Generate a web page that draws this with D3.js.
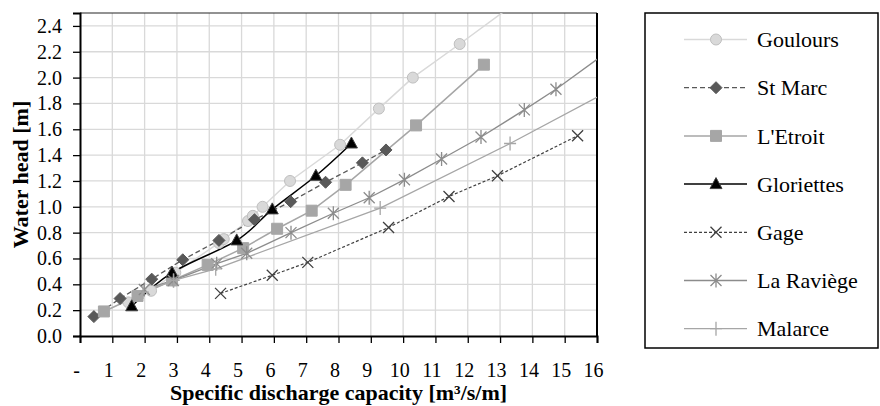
<!DOCTYPE html>
<html>
<head>
<meta charset="utf-8">
<script src="https://cdn.jsdelivr.net/npm/d3@7/dist/d3.min.js"></script>
<style>
  html, body { margin: 0; padding: 0; background: #fff; }
  svg { display: block; }
  text { font-family: "Liberation Serif", "Times New Roman", serif; fill: #000; }
</style>
</head>
<body>
<svg id="chart" width="880" height="406"></svg>
<script>
// ---------- data (x = specific discharge capacity, y = water head) ----------
const xTickValues = [0,1,2,3,4,5,6,7,8,9,10,11,12,13,14,15,16];
const xTickLabels = ["-","1","2","3","4","5","6","7","8","9","10","11","12","13","14","15","16"];
const yTickValues = [0,0.2,0.4,0.6,0.8,1.0,1.2,1.4,1.6,1.8,2.0,2.2,2.4];

const seriesNames = ["Goulours","St Marc","L'Etroit","Gloriettes","Gage","La Raviège","Malarce"];

const goulours   = [[1.5,0.26],[2.2,0.35],[2.95,0.49],[4.3,0.72],[4.45,0.75],[5.2,0.89],[5.35,0.93],[5.65,1.0],[6.5,1.2],[8.05,1.48],[9.25,1.76],[10.3,2.0],[11.75,2.26],[13.6,2.6]];
const stMarc     = [[0.43,0.15],[1.24,0.29],[2.22,0.44],[3.18,0.59],[4.3,0.74],[5.4,0.9],[6.52,1.04],[7.6,1.19],[8.74,1.34],[9.47,1.44]];
const lEtroit    = [[0.74,0.19],[1.78,0.31],[2.85,0.43],[3.95,0.55],[5.05,0.68],[6.1,0.83],[7.17,0.97],[8.22,1.17],[10.4,1.63],[12.5,2.1]];
const gloriettes = [[1.6,0.23],[2.85,0.49],[4.85,0.74],[5.95,0.98],[7.3,1.24],[8.4,1.49]];
const gage       = [[4.35,0.33],[5.95,0.47],[7.05,0.57],[9.55,0.84],[11.42,1.08],[12.92,1.24],[15.4,1.55]];
const laRaviege  = [[1.99,0.36],[2.89,0.43],[4.23,0.56],[5.16,0.64],[6.53,0.8],[7.84,0.95],[8.95,1.07],[10.04,1.21],[11.19,1.37],[12.41,1.54],[13.75,1.75],[14.73,1.91],[16.6,2.25]];
const malarce    = [[1.95,0.34],[2.9,0.43],[4.2,0.52],[9.29,0.99],[13.31,1.49],[17.6,2.06]];

// ---------- styles ----------
const styles = [
  {data: goulours,   stroke: "#d9d9d9", width: 1.5, dash: null,  marker: "circle",   fill: "#d9d9d9", mstroke: "#bfbfbf", curve: d3.curveLinear},
  {data: stMarc,     stroke: "#595959", width: 1.3, dash: "5,3", marker: "diamond",  fill: "#595959", mstroke: "#595959", curve: d3.curveLinear},
  {data: lEtroit,    stroke: "#a6a6a6", width: 1.5, dash: null,  marker: "square",   fill: "#a6a6a6", mstroke: "#a6a6a6", curve: d3.curveLinear},
  {data: gloriettes, stroke: "#000000", width: 1.5, dash: null,  marker: "triangle", fill: "#000000", mstroke: "#404040", curve: d3.curveCardinal.tension(0)},
  {data: gage,       stroke: "#404040", width: 1.2, dash: "3,2", marker: "x",        fill: "none",    mstroke: "#404040", curve: d3.curveLinear},
  {data: laRaviege,  stroke: "#8c8c8c", width: 1.3, dash: null,  marker: "star",     fill: "none",    mstroke: "#8c8c8c", curve: d3.curveLinear},
  {data: malarce,    stroke: "#a6a6a6", width: 1.3, dash: null,  marker: "plus",     fill: "none",    mstroke: "#a6a6a6", curve: d3.curveLinear}
];

// ---------- layout ----------
const plot = {left: 80, right: 597, top: 13, bottom: 336};
const svg = d3.select("#chart");

const x = d3.scaleLinear().domain([0, 16]).range([plot.left, plot.right]);
const y = d3.scaleLinear().domain([0, 2.5]).range([plot.bottom, plot.top]);

// gridlines
const grid = svg.append("g");
grid.selectAll("line.v").data(xTickValues.slice(1)).enter().append("line")
  .attr("x1", d => x(d)).attr("x2", d => x(d))
  .attr("y1", plot.top).attr("y2", plot.bottom)
  .attr("stroke", "#d9d9d9").attr("stroke-width", 1.3);
grid.selectAll("line.h").data(yTickValues.slice(1)).enter().append("line")
  .attr("x1", plot.left).attr("x2", plot.right)
  .attr("y1", d => y(d)).attr("y2", d => y(d))
  .attr("stroke", "#d9d9d9").attr("stroke-width", 1.3);

// plot border
svg.append("line").attr("x1", plot.left).attr("x2", plot.right).attr("y1", plot.top).attr("y2", plot.top)
  .attr("stroke", "#262626").attr("stroke-width", 1.2);
svg.append("line").attr("x1", plot.right).attr("x2", plot.right).attr("y1", plot.top).attr("y2", plot.bottom)
  .attr("stroke", "#000").attr("stroke-width", 2);

// clip
svg.append("defs").append("clipPath").attr("id", "clip")
  .append("rect").attr("x", plot.left).attr("y", plot.top)
  .attr("width", plot.right - plot.left).attr("height", plot.bottom - plot.top);

// marker generator
function markerPath(type) {
  switch (type) {
    case "circle":   return d3.symbol().type(d3.symbolCircle).size(Math.PI * 5.5 * 5.5)();
    case "square":   return d3.symbol().type(d3.symbolSquare).size(11 * 11)();
    case "diamond":  return "M0,-6L6,0L0,6L-6,0Z";
    case "triangle": return "M0,-6.5L6,4.5L-6,4.5Z";
    case "x":        return "M-5.5,-5.5L5.5,5.5M-5.5,5.5L5.5,-5.5";
    case "star":     return "M-5.5,-5.5L5.5,5.5M-5.5,5.5L5.5,-5.5M0,-7L0,7";
    case "plus":     return "M-6,0L6,0M0,-7L0,7";
  }
}

const series = svg.append("g").attr("clip-path", "url(#clip)");
styles.forEach(s => {
  const line = d3.line().x(d => x(d[0])).y(d => y(d[1])).curve(s.curve);
  series.append("path").datum(s.data)
    .attr("d", line).attr("fill", "none")
    .attr("stroke", s.stroke).attr("stroke-width", s.width)
    .attr("stroke-dasharray", s.dash);
});
styles.forEach(s => {
  series.selectAll(null).data(s.data).enter().append("path")
    .attr("transform", d => `translate(${x(d[0])},${y(d[1])})`)
    .attr("d", markerPath(s.marker))
    .attr("fill", s.fill).attr("stroke", s.mstroke)
    .attr("stroke-width", s.fill === "none" ? 1.3 : 1);
});

// axes
const xAxis = d3.axisBottom(x).tickValues(xTickValues).tickSize(7)
  .tickFormat((d, i) => xTickLabels[i]);
const gx = svg.append("g").attr("transform", `translate(0,${plot.bottom})`).call(xAxis);
gx.select(".domain").attr("stroke", "#000").attr("stroke-width", 2);
gx.selectAll(".tick line").attr("stroke", "#000").attr("stroke-width", 1.3);
gx.selectAll(".tick text").attr("font-size", 20).attr("font-family", "Liberation Serif")
  .attr("y", 41).attr("dy", 0).attr("dx", -4).attr("fill", "#000");

const yAxis = d3.axisLeft(y).tickValues(yTickValues).tickSize(7).tickFormat(d3.format(".1f"));
const gy = svg.append("g").attr("transform", `translate(${plot.left},0)`).call(yAxis);
gy.select(".domain").attr("stroke", "#000").attr("stroke-width", 2);
gy.selectAll(".tick line").attr("stroke", "#000").attr("stroke-width", 1.3);
gy.selectAll(".tick text").attr("font-size", 20).attr("font-family", "Liberation Serif")
  .attr("x", -18).attr("fill", "#000");

// axis titles
svg.append("text").attr("x", (plot.left + plot.right) / 2).attr("y", 400)
  .attr("text-anchor", "middle").attr("font-size", 22).attr("font-weight", "bold")
  .text("Specific discharge capacity [m³/s/m]");
svg.append("text").attr("transform", `translate(28,${(plot.top + plot.bottom) / 2}) rotate(-90)`)
  .attr("text-anchor", "middle").attr("font-size", 22).attr("font-weight", "bold")
  .text("Water head [m]");

// legend
const legend = svg.append("g");
legend.append("rect").attr("x", 645).attr("y", 13).attr("width", 233).attr("height", 335)
  .attr("fill", "#fff").attr("stroke", "#000").attr("stroke-width", 1.5);
const rowY = d3.scalePoint().domain(seriesNames).range([39.5, 328.7]);
styles.forEach((s, i) => {
  const cy = rowY(seriesNames[i]);
  legend.append("line").attr("x1", 684).attr("x2", 747).attr("y1", cy).attr("y2", cy)
    .attr("stroke", s.stroke).attr("stroke-width", s.width).attr("stroke-dasharray", s.dash);
  legend.append("path").attr("transform", `translate(716,${cy})`)
    .attr("d", markerPath(s.marker)).attr("fill", s.fill).attr("stroke", s.mstroke)
    .attr("stroke-width", s.fill === "none" ? 1.3 : 1);
  legend.append("text").attr("x", 757).attr("y", cy).attr("dy", "0.35em")
    .attr("font-size", 22).text(seriesNames[i]);
});
</script>
</body>
</html>
